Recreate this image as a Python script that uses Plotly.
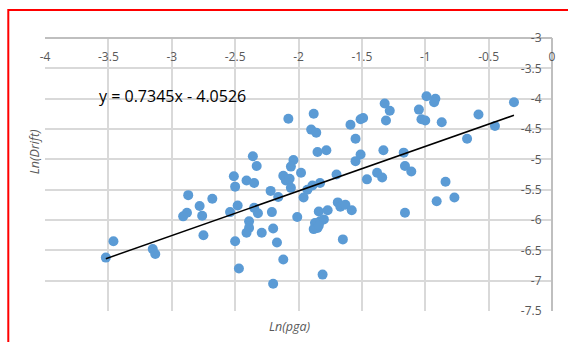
import plotly.graph_objects as go

# Log-transformed peak ground acceleration vs. log drift
ln_pga = [
    -3.52, -3.46, -3.15, -3.13, -2.87, -2.78, -2.68, -2.88, -2.91, -2.76,
    -2.75, -2.54, -2.48, -2.50, -2.47, -2.51, -2.50, -2.08, -1.88, -1.90,
    -1.86, -1.85, -1.78, -1.59, -1.51, -1.49, -1.55, -1.51, -1.55, -1.46,
    -1.38, -2.36, -2.33, -2.04, -2.06, -1.98, -2.12, -2.10, -2.07, -2.06,
    -2.41, -2.35, -2.22, -2.16, -1.70, -1.83, -1.89, -1.93, -1.96, -0.99,
    -0.92, -0.93, -1.32, -1.28, -1.31, -1.05, -1.03, -1.00, -0.87, -0.58,
    -0.30, -0.45, -0.67, -1.33, -1.17, -1.34, -1.16, -1.11, -0.84, -1.16,
    -0.91, -0.77, -2.35, -2.32, -2.21, -2.39, -2.39, -2.41, -2.29, -2.20,
    -2.17, -2.01, -1.84, -1.77, -1.69, -1.67, -1.63, -1.58, -1.87, -1.83,
    -1.80, -1.88, -1.85, -1.84, -1.65, -2.12, -1.81, -2.20,
]
ln_drift = [
    -6.62, -6.35, -6.48, -6.56, -5.59, -5.77, -5.65, -5.88, -5.94, -5.93,
    -6.25, -5.87, -5.76, -6.35, -6.80, -5.28, -5.45, -4.33, -4.25, -4.51,
    -4.56, -4.88, -4.85, -4.43, -4.34, -4.32, -4.66, -4.92, -5.03, -5.33,
    -5.22, -4.95, -5.11, -5.01, -5.12, -5.22, -5.27, -5.35, -5.32, -5.47,
    -5.35, -5.39, -5.52, -5.62, -5.25, -5.39, -5.43, -5.50, -5.63, -3.96,
    -4.00, -4.06, -4.08, -4.20, -4.36, -4.18, -4.34, -4.36, -4.39, -4.26,
    -4.06, -4.45, -4.66, -4.85, -4.89, -5.30, -5.11, -5.20, -5.37, -5.88,
    -5.69, -5.63, -5.80, -5.89, -5.87, -6.02, -6.13, -6.21, -6.21, -6.14,
    -6.37, -5.95, -5.86, -5.84, -5.71, -5.78, -5.75, -5.84, -6.05, -6.02,
    -5.99, -6.15, -6.13, -6.09, -6.32, -6.65, -6.90, -7.05,
]

# Linear trendline coefficients
slope = 0.7345
intercept = -4.0526

x_ticks = [-4, -3.5, -3, -2.5, -2, -1.5, -1, -0.5, 0]
x_tick_labels = ["-4", "-3.5", "-3", "-2.5", "-2", "-1.5", "-1", "-0.5", "0"]
y_ticks = [-7.5, -7, -6.5, -6, -5.5, -5, -4.5, -4, -3.5, -3]
y_tick_labels = ["-7.5", "-7", "-6.5", "-6", "-5.5", "-5", "-4.5", "-4", "-3.5", "-3"]

trend_x = [min(ln_pga), max(ln_pga)]
trend_y = [slope * v + intercept for v in trend_x]

FONT = "Open Sans"
GRID = "#d9d9d9"
AXIS = "#bfbfbf"
TEXT = "#595959"

fig = go.Figure()
fig.add_trace(go.Scatter(
    x=ln_pga, y=ln_drift, mode="markers",
    marker=dict(color="#5b9bd5", size=10, line=dict(width=0)),
    showlegend=False,
))
fig.add_trace(go.Scatter(
    x=trend_x, y=trend_y, mode="lines",
    line=dict(color="black", width=1.5),
    showlegend=False,
))

fig.update_layout(
    width=568, height=342,
    margin=dict(l=45, r=12, t=38, b=31),
    paper_bgcolor="white", plot_bgcolor="white",
    font=dict(family=FONT, color=TEXT),
    xaxis=dict(
        range=[-4, 0], tickvals=x_ticks, ticktext=x_tick_labels,
        anchor="free", position=1, side="bottom",
        showgrid=True, gridcolor=GRID, gridwidth=2,
        zeroline=False, showline=True, linecolor=AXIS, linewidth=2,
        ticks="", ticklabelstandoff=8,
        tickfont=dict(size=12, color=TEXT, family=FONT),
    ),
    yaxis=dict(
        range=[-7.5, -3], tickvals=y_ticks, ticktext=y_tick_labels,
        anchor="free", position=1, side="left",
        showgrid=True, gridcolor=GRID, gridwidth=2,
        zeroline=False, showline=True, linecolor=AXIS, linewidth=2,
        ticks="", ticklabelstandoff=7,
        tickfont=dict(size=12, color=TEXT, family=FONT),
    ),
    annotations=[
        dict(text="y = 0.7345x - 4.0526", x=-3.59, y=-3.95, xref="x", yref="y",
             xanchor="left", yanchor="middle", showarrow=False,
             font=dict(size=16, color="black", family=FONT)),
        dict(text="<i>Ln(pga)</i>", x=0.483, y=-0.055, xref="paper", yref="paper",
             xanchor="center", yanchor="middle", showarrow=False,
             font=dict(size=12.5, color=TEXT, family=FONT)),
        dict(text="<i>Ln(Drift)</i>", x=-0.0215, y=0.582, xref="paper", yref="paper",
             xanchor="center", yanchor="middle", showarrow=False, textangle=-90,
             font=dict(size=12.5, color=TEXT, family=FONT)),
    ],
    shapes=[
        dict(type="rect", xref="paper", yref="paper",
             x0=-0.0724, x1=1.2, y0=-0.3, y1=1.1026,
             line=dict(color="red", width=2), fillcolor="rgba(0,0,0,0)", layer="above"),
    ],
)

fig.write_html("out.html")
